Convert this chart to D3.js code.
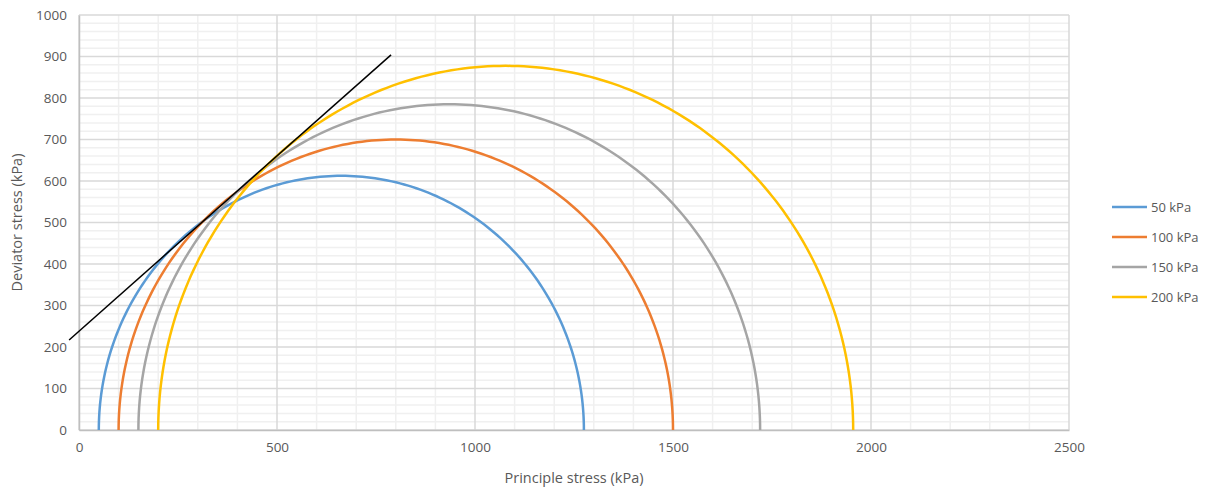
<!DOCTYPE html>
<html>
<head>
<meta charset="utf-8">
<script src="https://cdn.jsdelivr.net/npm/d3@7"></script>
<style>
  html, body { margin: 0; padding: 0; background: #fff; }
  text { font-family: "Open Sans", "Liberation Sans", sans-serif; fill: #595959; }
</style>
</head>
<body>
<svg id="chart" width="1211" height="490"></svg>
<script>
// Mohr circles: confining pressure (sigma3) and failure major principal stress (sigma1)
const seriesNames = ["50 kPa", "100 kPa", "150 kPa", "200 kPa"];
const sigma3 = [50, 100, 150, 200];
const sigma1 = [1275, 1500, 1720, 1955];
const colors = ["#5b9bd5", "#ed7d31", "#a5a5a5", "#ffc000"];

// Failure envelope endpoints (principle stress, deviator stress)
const envelopeX = [-25, 788];
const envelopeY = [217, 904];

const xTicks = [0, 500, 1000, 1500, 2000, 2500];
const yTicks = [0, 100, 200, 300, 400, 500, 600, 700, 800, 900, 1000];

const svg = d3.select("#chart");
const m = { left: 79, right: 1069, top: 15, bottom: 430 };

const x = d3.scaleLinear().domain([0, 2500]).range([m.left, m.right]);
const y = d3.scaleLinear().domain([0, 1000]).range([m.bottom, m.top]);

// minor gridlines
const g = svg.append("g");
g.selectAll("line.mx").data(d3.range(100, 2500, 100).filter(v => v % 500 !== 0))
  .join("line").attr("x1", d => x(d)).attr("x2", d => x(d))
  .attr("y1", m.top).attr("y2", m.bottom)
  .attr("stroke", "#f0f0f0").attr("stroke-width", 1.5);
g.selectAll("line.my").data(d3.range(20, 1000, 20).filter(v => v % 100 !== 0))
  .join("line").attr("y1", d => y(d)).attr("y2", d => y(d))
  .attr("x1", m.left).attr("x2", m.right)
  .attr("stroke", "#f0f0f0").attr("stroke-width", 1.5);

// major gridlines
g.selectAll("line.Mx").data(xTicks)
  .join("line").attr("x1", d => x(d)).attr("x2", d => x(d))
  .attr("y1", m.top).attr("y2", m.bottom)
  .attr("stroke", "#d9d9d9").attr("stroke-width", 1.5);
g.selectAll("line.My").data(yTicks)
  .join("line").attr("y1", d => y(d)).attr("y2", d => y(d))
  .attr("x1", m.left).attr("x2", m.right)
  .attr("stroke", "#d9d9d9").attr("stroke-width", 1.5);

// axes
const fmt = d3.format("d");
const xAxis = svg.append("g").attr("transform", `translate(0,${m.bottom})`)
  .call(d3.axisBottom(x).tickValues(xTicks).tickFormat(fmt).tickSize(0).tickPadding(12));
xAxis.select(".domain").attr("stroke", "#bfbfbf").attr("stroke-width", 1.5);
xAxis.selectAll("text").style("font-size", "13.5px").attr("fill", "#595959");

const yAxis = svg.append("g").attr("transform", `translate(${m.left},0)`)
  .call(d3.axisLeft(y).tickValues(yTicks).tickFormat(fmt).tickSize(0).tickPadding(12));
yAxis.select(".domain").attr("stroke", "#bfbfbf").attr("stroke-width", 1.5);
yAxis.selectAll("text").style("font-size", "13.5px").attr("fill", "#595959");

// axis titles
svg.append("text").attr("x", (m.left + m.right) / 2).attr("y", 483)
  .attr("text-anchor", "middle").style("font-size", "14.5px")
  .text("Principle stress (kPa)");
svg.append("text").attr("transform", `translate(22,${(m.top + m.bottom) / 2}) rotate(-90)`)
  .attr("text-anchor", "middle").style("font-size", "14.5px")
  .text("Deviator stress (kPa)");

// Mohr semicircles
const circles = sigma3.map((s3, i) => ({ s3, s1: sigma1[i], color: colors[i], name: seriesNames[i] }));
const line = d3.line().x(d => x(d[0])).y(d => y(d[1]));
const semicircle = c => {
  const cx = (c.s1 + c.s3) / 2, r = (c.s1 - c.s3) / 2;
  return d3.range(0, 181).map(a => {
    const t = Math.PI - a * Math.PI / 180;
    return [cx + r * Math.cos(t), r * Math.sin(t)];
  });
};
svg.append("g").selectAll("path").data(circles).join("path")
  .attr("d", c => line(semicircle(c)))
  .attr("fill", "none").attr("stroke", c => c.color).attr("stroke-width", 2.5);

// failure envelope
svg.append("path")
  .attr("d", line(envelopeX.map((v, i) => [v, envelopeY[i]])))
  .attr("fill", "none").attr("stroke", "#000").attr("stroke-width", 1.5);

// legend
const lg = svg.append("g").selectAll("g").data(circles).join("g")
  .attr("transform", (d, i) => `translate(1112,${207 + i * 30})`);
lg.append("line").attr("x1", 0).attr("x2", 35).attr("stroke", d => d.color).attr("stroke-width", 2.5);
lg.append("text").attr("x", 39).attr("y", 4.5).style("font-size", "13px").text(d => d.name);
</script>
</body>
</html>
